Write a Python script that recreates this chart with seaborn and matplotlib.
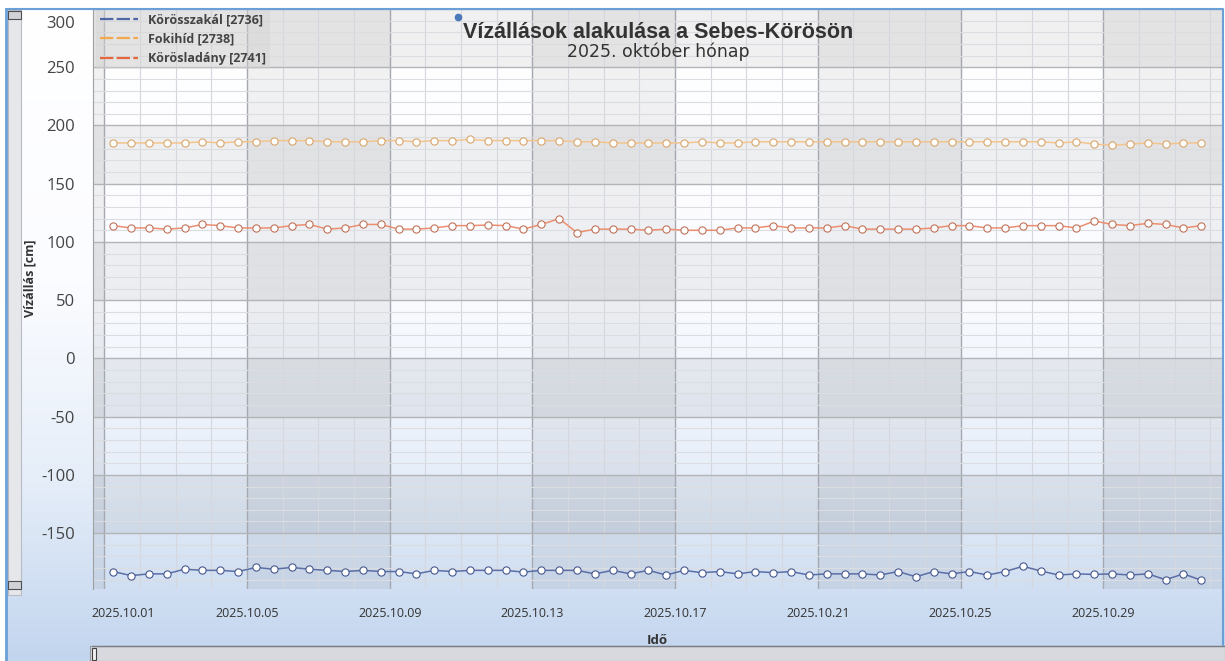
import numpy as np
import pandas as pd
import matplotlib
matplotlib.use("Agg")
import matplotlib.pyplot as plt
import matplotlib.dates as mdates
import matplotlib.transforms as mtransforms
from matplotlib.lines import Line2D
from matplotlib.patches import Rectangle
from matplotlib.colors import LinearSegmentedColormap
import seaborn as sns

# --- data: water levels, 06:00 and 18:00 readings, October 2025 ---
times = pd.date_range("2025-10-01 06:00", periods=62, freq="12h")

korosszakal = [
    -183, -186.5, -185, -185, -181, -182, -182, -183, -179.5, -181, -179.5,
    -181, -182, -183, -182, -183, -183, -185, -182, -183, -182, -182,
    -182, -183.5, -182, -182, -182, -185, -182, -185, -182, -186, -182,
    -184, -183, -185, -183, -184, -183, -186, -185, -185, -185, -186,
    -183, -187.5, -183, -185, -183,
    -186, -183, -178.5, -182.5, -186, -185, -185.5, -185, -186, -185,
    -190, -185, -190.5,
]
fokihid = [
    185, 185, 185, 185, 185, 186, 185, 186,
    186, 187, 187, 187, 186, 186, 186, 187,
    187, 186, 187, 187, 188, 187, 187, 187,
    187, 187, 186, 186, 185, 185, 185, 185,
    185, 186, 185, 185, 186, 186, 186, 186,
    186, 186, 186, 186, 186, 186, 186, 186,
    186, 186, 186, 186, 186, 185, 186, 184,
    183, 184, 185, 184, 185, 185,
]
korosladany = [
    114, 112, 112, 111, 112, 115, 114, 112, 112, 112, 114, 115, 111, 112,
    115, 115, 111, 111, 112, 114, 114, 114.5,
    114, 111, 115, 120, 108, 111, 111, 111, 110, 111, 110, 110, 110, 112,
    112, 114, 112, 112, 112, 114, 111, 111,
    111, 111, 112, 114, 114, 112, 112, 114, 114, 114, 112, 118, 115, 114,
    116, 115, 112, 114,
]

stations = ["Körösszakál [2736]", "Fokihíd [2738]", "Körösladány [2741]"]
line_colors = ["#5b6ea6", "#f3c58e", "#ec8f70"]
edge_colors = ["#47588f", "#d9a56a", "#c0725a"]
legend_colors = ["#4f67a6", "#f2a94c", "#e3683f"]

df = pd.DataFrame({"Idő": times, stations[0]: korosszakal,
                   stations[1]: fokihid, stations[2]: korosladany})

# --- figure ---
sns.set_style("white")
plt.rcParams["font.family"] = ["Open Sans", "DejaVu Sans"]
plt.rcParams["axes.unicode_minus"] = False

W, H = 1225, 661
fig = plt.figure(figsize=(W / 100, H / 100), dpi=100, facecolor="white")

# window background gradient
bg = fig.add_axes([6 / W, 0, 1 - 6 / W, 1 - 9 / H], zorder=-10)
grad = LinearSegmentedColormap.from_list(
    "win", [(0, "#ffffff"), (0.42, "#fbfcff"), (0.72, "#e6eef9"), (1, "#c2d5ee")])
bg.imshow(np.linspace(0, 1, 256).reshape(-1, 1), aspect="auto", cmap=grad,
          extent=[0, 1, 1, 0])
bg.set_axis_off()

ax = fig.add_axes([93 / W, 1 - 589 / H, (1222 - 93) / W, (589 - 9) / H])
ax.set_facecolor("none")

x0 = mdates.date2num(pd.Timestamp("2025-10-01"))
ax.set_xlim(x0 - 0.317, x0 + 31.33)
ax.set_ylim(-198, 300)

# alternating bands
for y0 in [250, 150, 50, -50, -150]:
    ax.axhspan(y0, y0 + 50, color="black", alpha=0.055, lw=0, zorder=0)
for d in ["2025-09-27", "2025-10-05", "2025-10-13", "2025-10-21", "2025-10-29"]:
    s = pd.Timestamp(d)
    ax.axvspan(s, s + pd.Timedelta(days=4), color="black", alpha=0.05, lw=0, zorder=0)

# grid
ax.set_xticks(pd.date_range("2025-10-01", "2025-10-29", freq="4D"))
ax.xaxis.set_minor_locator(mdates.DayLocator())
ax.xaxis.set_major_formatter(mdates.DateFormatter("%Y.%m.%d"))
ax.set_yticks(range(-150, 301, 50))
ax.set_yticks(range(-190, 301, 10), minor=True)
ax.grid(which="major", axis="x", color="#a6a8b0", lw=1, zorder=0.5)
ax.grid(which="minor", axis="x", color="#d4d7dd", lw=0.8, zorder=0.5)
ax.grid(which="major", axis="y", color="#b2b4b8", lw=1, zorder=0.5)
ax.grid(which="minor", axis="y", color="#dcdde0", lw=0.8, zorder=0.5)
ax.set_axisbelow(True)

for i, name in enumerate(stations):
    sns.lineplot(data=df, x="Idő", y=name, ax=ax, color=line_colors[i], lw=1.1,
                 marker="o", markersize=5.2, markerfacecolor="white",
                 markeredgecolor=edge_colors[i], markeredgewidth=0.8, zorder=3)

ax.tick_params(axis="x", which="major", direction="out", length=5, color="#a6a8b0",
               labelsize=9, labelcolor="#333333", pad=8)
ax.tick_params(axis="x", which="minor", direction="out", length=5, color="#d4d7dd")
ax.tick_params(axis="y", which="major", direction="out", length=8, color="#a8a8a8",
               labelsize=12, labelcolor="#444444", pad=5)
ax.tick_params(axis="y", which="minor", direction="out", length=3, color="#c8c8c8")

# edge labels are pushed inside the window, as in the original control
first = ax.get_xticklabels()[0]
first.set_transform(first.get_transform() +
                    mtransforms.ScaledTranslation(0.19, 0, fig.dpi_scale_trans))
for lab in ax.get_yticklabels():
    if lab.get_text() == "300":
        lab.set_transform(lab.get_transform() +
                          mtransforms.ScaledTranslation(0, -0.13, fig.dpi_scale_trans))

for side in ["top", "right", "bottom"]:
    ax.spines[side].set_visible(False)
ax.spines["left"].set_color("#a0a0a0")

ax.set_xlabel("Idő", fontsize=9.5, fontweight="bold", color="#333333")
ax.xaxis.set_label_coords(0.5, -(634 - 589) / 580)
ax.set_ylabel("Vízállás [cm]", fontsize=9, fontweight="bold", color="#333333")
ax.yaxis.set_label_coords(-(93 - 37) / 1129, (589 - 278) / 580)

handles = [Line2D([], [], color=c, lw=1.6, dashes=(6, 1.5)) for c in legend_colors]
leg = ax.legend(handles, stations, loc="upper left", bbox_to_anchor=(3 / 1129, 1),
                borderaxespad=0, handlelength=3.0, handletextpad=0.8,
                labelspacing=0.5, borderpad=0.35, frameon=True, fancybox=False,
                prop={"weight": "bold", "size": 9})
leg.get_frame().set_facecolor("#d4d4d4")
leg.get_frame().set_alpha(0.45)
leg.get_frame().set_edgecolor("none")
for t in leg.get_texts():
    t.set_color("#444444")

# title
fig.text(658 / W, 1 - 33 / H, "Vízállások alakulása a Sebes-Körösön",
         ha="center", va="center", fontsize=15.5, fontweight="bold",
         color="#333333", family=["Liberation Sans", "DejaVu Sans"])
fig.text(658 / W, 1 - 52 / H, "2025. október hónap", ha="center", va="center",
         fontsize=12.5, color="#333333", family=["DejaVu Sans"])
fig.add_artist(Line2D([458 / W], [1 - 17 / H], marker="o", markersize=4.5,
                      color="#4a78b8", transform=fig.transFigure))

# window chrome: borders and scrollbars
blue = "#6a9fd8"
fig.add_artist(Line2D([6 / W, 1222 / W], [1 - 9 / H, 1 - 9 / H], color=blue, lw=1.5,
                      transform=fig.transFigure))
fig.add_artist(Line2D([6 / W, 6 / W], [0, 1 - 9 / H], color=blue, lw=2,
                      transform=fig.transFigure))
fig.add_artist(Line2D([1223 / W, 1223 / W], [1 - 645 / H, 1 - 9 / H], color=blue,
                      lw=1.5, transform=fig.transFigure))
fig.add_artist(Rectangle((8 / W, 1 - 595 / H), 13 / W, 585 / H, facecolor="#e6e7eb",
                         edgecolor="#b8bcc4", lw=0.8, transform=fig.transFigure))
for yy in [14, 584]:
    fig.add_artist(Rectangle((8 / W, 1 - (yy + 5) / H), 13 / W, 8 / H,
                             facecolor="#d0d2d8", edgecolor="#505050", lw=0.8,
                             transform=fig.transFigure))
fig.add_artist(Rectangle((90 / W, 0), 1135 / W, 15 / H, facecolor="#d8d9de",
                         edgecolor="#9a9ca4", lw=0.8, transform=fig.transFigure))
fig.add_artist(Line2D([92 / W, 1225 / W], [15 / H, 15 / H], color="#7a7c84", lw=1,
                      transform=fig.transFigure))
fig.add_artist(Rectangle((92 / W, 1 / H), 4 / W, 12 / H, facecolor="#f0f0f0",
                         edgecolor="#404040", lw=0.8, transform=fig.transFigure))

fig.savefig("out.png", dpi=100)
